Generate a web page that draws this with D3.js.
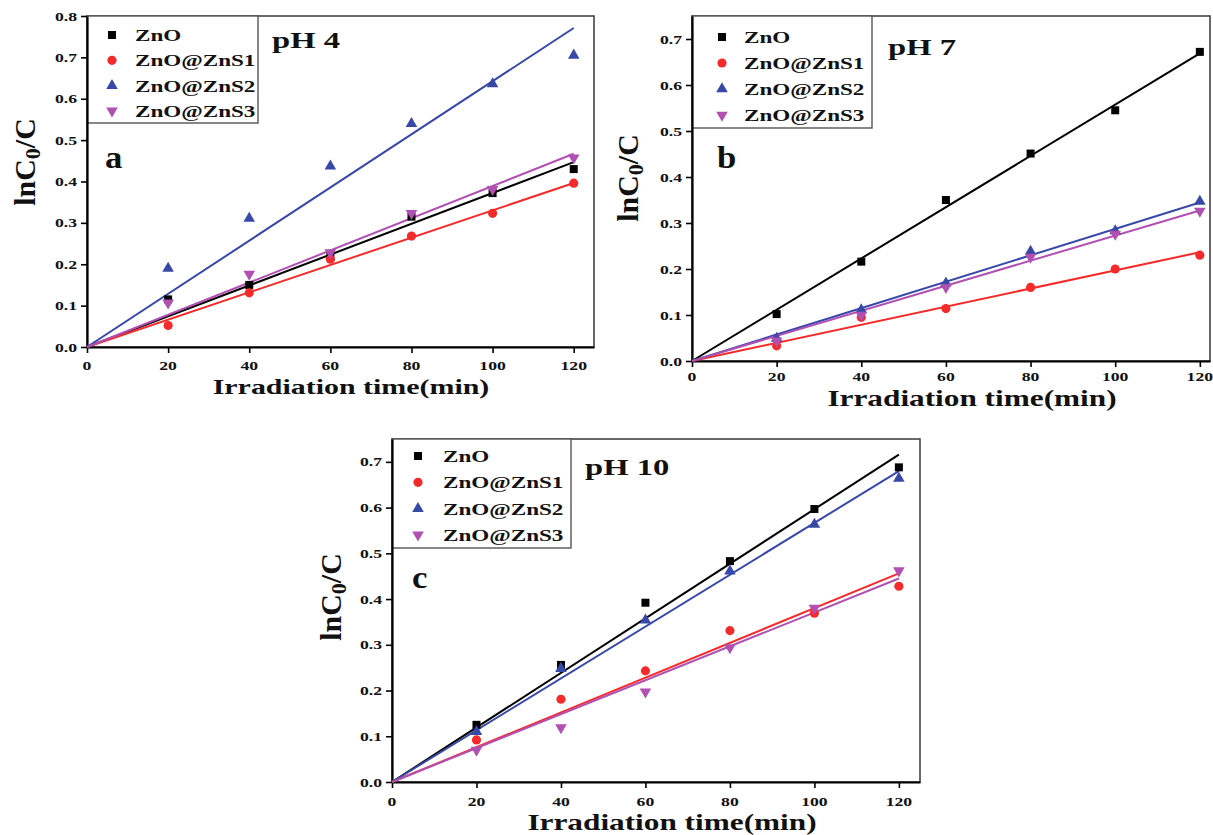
<!DOCTYPE html>
<html>
<head>
<meta charset="utf-8">
<title>lnC0/C vs irradiation time</title>
<script src="https://d3js.org/d3.v7.min.js"></script>
<style>
  body { margin: 0; background: #fff; }
  svg text { font-family: "Liberation Serif", "Times New Roman", serif; font-weight: bold; fill: #111; }
</style>
</head>
<body>
<script>
// irradiation times (min), same for every sample
var times = [20, 40, 60, 80, 100, 120];
var sampleNames = ["ZnO", "ZnO@ZnS1", "ZnO@ZnS2", "ZnO@ZnS3"];
var xTicks = [0, 20, 40, 60, 80, 100, 120];
var yTicksA = [0, 0.1, 0.2, 0.3, 0.4, 0.5, 0.6, 0.7, 0.8];
var yTicksBC = [0, 0.1, 0.2, 0.3, 0.4, 0.5, 0.6, 0.7];

// lnC0/C, panel a (pH 4)
var ph4ZnO  = [0.115, 0.150, 0.220, 0.315, 0.372, 0.430];
var ph4ZnS1 = [0.052, 0.131, 0.212, 0.268, 0.323, 0.396];
var ph4ZnS2 = [0.190, 0.311, 0.437, 0.540, 0.636, 0.705];
var ph4ZnS3 = [0.107, 0.176, 0.228, 0.323, 0.381, 0.457];
// panel b (pH 7)
var ph7ZnO  = [0.102, 0.216, 0.350, 0.451, 0.545, 0.672];
var ph7ZnS1 = [0.033, 0.095, 0.114, 0.160, 0.200, 0.230];
var ph7ZnS2 = [0.049, 0.111, 0.169, 0.238, 0.283, 0.347];
var ph7ZnS3 = [0.044, 0.100, 0.160, 0.226, 0.276, 0.326];
// panel c (pH 10)
var ph10ZnO  = [0.125, 0.256, 0.392, 0.483, 0.597, 0.688];
var ph10ZnS1 = [0.092, 0.181, 0.243, 0.331, 0.369, 0.428];
var ph10ZnS2 = [0.110, 0.248, 0.354, 0.461, 0.563, 0.664];
var ph10ZnS3 = [0.070, 0.119, 0.197, 0.294, 0.380, 0.462];

var colors = ["#000000", "#f52a2a", "#3848a8", "#b050b2"];
var shapes = ["square", "circle", "up", "down"];

var SX = 1.36; // the figure's lettering is stretched sideways

var panels = [
  { series: [ph4ZnO, ph4ZnS1, ph4ZnS2, ph4ZnS3], ph: "pH 4", letter: "a", yTicks: yTicksA,
    left: 87, top: 16, right: 594, bottom: 347, xMax: 125, yMax: 0.8, tickGap: 23,
    leg: { w: 171, h: 107, sym: 25, txt: 48, row0: 19, step: 25.3 },
    phPos: [272, 48], letPos: [105, 168], yLab: [35, 162], xLab: [351, 394, 22] },
  { series: [ph7ZnO, ph7ZnS1, ph7ZnS2, ph7ZnS3], ph: "pH 7", letter: "b", yTicks: yTicksBC,
    left: 692, top: 16, right: 1210, bottom: 361, xMax: 122.4, yMax: 0.75, tickGap: 20,
    leg: { w: 180, h: 112, sym: 30, txt: 52, row0: 21, step: 26 },
    phPos: [888, 55], letPos: [717, 168], yLab: [638, 178], xLab: [972, 406, 23] },
  { series: [ph10ZnO, ph10ZnS1, ph10ZnS2, ph10ZnS3], ph: "pH 10", letter: "c", yTicks: yTicksBC,
    left: 392, top: 439, right: 920, bottom: 782, xMax: 125, yMax: 0.75, tickGap: 24,
    leg: { w: 179, h: 109, sym: 26, txt: 51, row0: 17, step: 26.3 },
    phPos: [585, 475], letPos: [412, 588], yLab: [341, 597], xLab: [672, 830, 23] }
];

var svg = d3.select("body").append("svg")
    .attr("width", 1213)
    .attr("height", 835);

function stext(g, x, y, str, size, anchor, sx) {
  return g.append("text")
      .attr("transform", "translate(" + x + "," + y + ") scale(" + (sx || SX) + ",1)")
      .attr("font-size", size)
      .attr("text-anchor", anchor || "start")
      .text(str);
}

function marker(g, shape, x, y, color) {
  var sym;
  if (shape == "square") sym = d3.symbol(d3.symbolSquare, 64);
  else if (shape == "circle") sym = d3.symbol(d3.symbolCircle, 66);
  else sym = d3.symbol(d3.symbolTriangle, 58);
  g.append("path")
      .attr("d", sym())
      .attr("transform", "translate(" + x + "," + y + ")" + (shape == "down" ? " rotate(180)" : ""))
      .attr("fill", color);
}

panels.forEach(function(p) {
  var g = svg.append("g");
  var x = d3.scaleLinear().domain([0, p.xMax]).range([p.left, p.right]);
  var y = d3.scaleLinear().domain([0, p.yMax]).range([p.bottom, p.top]);

  // frame
  g.append("rect")
      .attr("x", p.left).attr("y", p.top)
      .attr("width", p.right - p.left).attr("height", p.bottom - p.top)
      .attr("fill", "none").attr("stroke", "#444").attr("stroke-width", 1.6);

  // legend box (sits in the upper left corner)
  g.append("rect")
      .attr("x", p.left).attr("y", p.top)
      .attr("width", p.leg.w).attr("height", p.leg.h)
      .attr("fill", "#fff").attr("stroke", "#555").attr("stroke-width", 1.4);

  // axes
  var xAxis = g.append("g")
      .attr("transform", "translate(0," + p.bottom + ")")
      .call(d3.axisBottom(x).tickValues(xTicks).tickSize(6).tickSizeOuter(0).tickFormat(""));
  var yAxis = g.append("g")
      .attr("transform", "translate(" + p.left + ",0)")
      .call(d3.axisLeft(y).tickValues(p.yTicks).tickSize(6).tickSizeOuter(0).tickFormat(""));
  [xAxis, yAxis].forEach(function(a) {
    a.select(".domain").attr("stroke", "#000").attr("stroke-width", 2.2);
    a.selectAll(".tick line").attr("stroke", "#000").attr("stroke-width", 1.6);
  });

  xTicks.forEach(function(t) {
    stext(g, x(t), p.bottom + p.tickGap, t, 13, "middle");
  });
  p.yTicks.forEach(function(t) {
    stext(g, p.left - 10, y(t) + 4.5, d3.format(".1f")(t), 13, "end");
  });

  // fitted lines, least squares through the origin
  p.series.forEach(function(vals, i) {
    var k = d3.sum(vals, function(v, j) { return v * times[j]; }) /
            d3.sum(times, function(t) { return t * t; });
    g.append("line")
        .attr("x1", x(0)).attr("y1", y(0))
        .attr("x2", x(120)).attr("y2", y(k * 120))
        .attr("stroke", colors[i]).attr("stroke-width", 2);
  });

  // measured points
  p.series.forEach(function(vals, i) {
    vals.forEach(function(v, j) {
      marker(g, shapes[i], x(times[j]), y(v), colors[i]);
    });
  });

  // legend entries
  sampleNames.forEach(function(name, i) {
    var cy = p.top + p.leg.row0 + i * p.leg.step;
    marker(g, shapes[i], p.left + p.leg.sym, cy, colors[i]);
    stext(g, p.left + p.leg.txt, cy + 6, name, 17, "start");
  });

  stext(g, p.phPos[0], p.phPos[1], p.ph, 24, "start");
  stext(g, p.letPos[0], p.letPos[1], p.letter, 31, "start", 1.12);
  stext(g, p.xLab[0], p.xLab[1], "Irradiation time(min)", p.xLab[2], "middle");

  var yl = g.append("text")
      .attr("transform", "translate(" + p.yLab[0] + "," + p.yLab[1] + ") rotate(-90)")
      .attr("font-size", 30)
      .attr("text-anchor", "middle");
  yl.append("tspan").text("lnC");
  yl.append("tspan").attr("font-size", 22).attr("dy", 5).text("0");
  yl.append("tspan").attr("dy", -5).text("/C");
});
</script>
</body>
</html>
